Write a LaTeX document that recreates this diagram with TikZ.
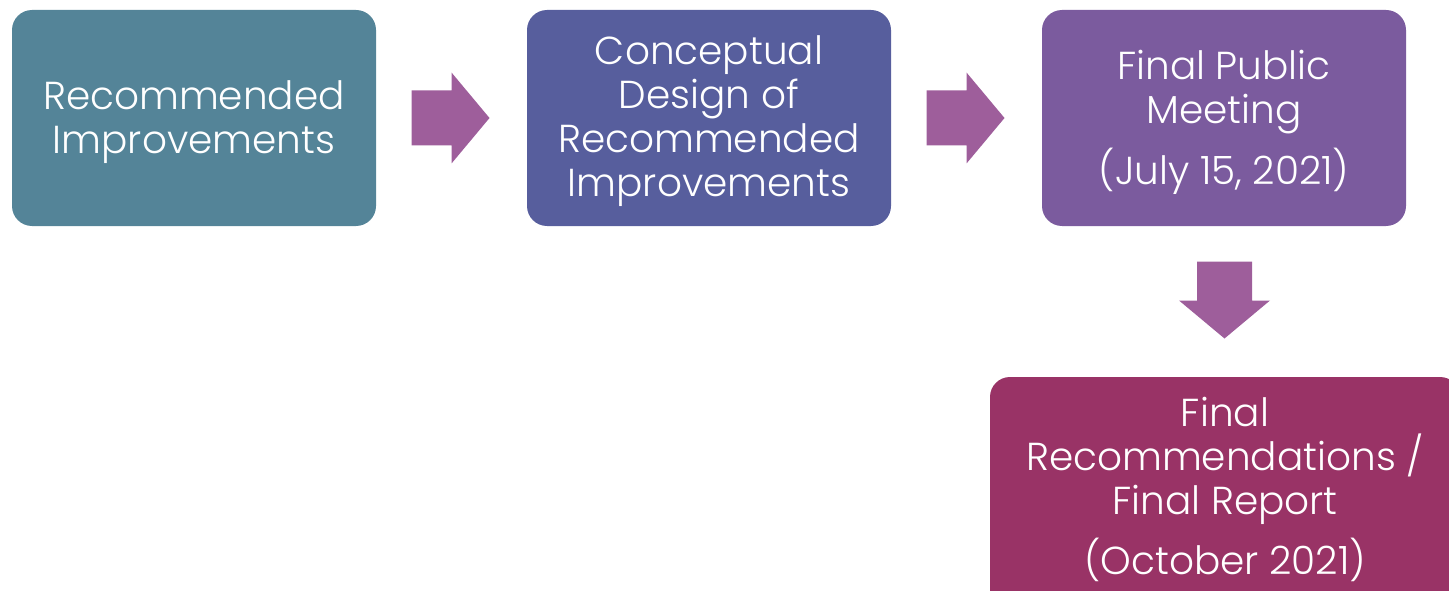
\documentclass[tikz,border=0pt]{standalone}
\usepackage{fontspec}
\setmainfont{Poppins}[UprightFont=* Light]
\usetikzlibrary{calc}
\definecolor{cA}{HTML}{548498}
\definecolor{cB}{HTML}{575E9D}
\definecolor{cC}{HTML}{7B5B9E}
\definecolor{cD}{HTML}{993366}
\definecolor{cArr}{HTML}{9E5E9B}
\tikzset{
  box/.style={rounded corners=20pt, minimum width=364pt, minimum height=216pt, inner sep=0pt},
  label text/.style={text=white, align=center, inner sep=0pt, font=\fontsize{39}{44}\selectfont},
  arrowfill/.style={fill=cArr},
}
\begin{document}
\begin{tikzpicture}[x=1pt,y=-1pt]
\useasboundingbox (0,0) rectangle (1449,591);
\node[box, fill=cA] (b1) at (194,118) {};
\node[box, fill=cB] (b2) at (709,118) {};
\node[box, fill=cC] (b3) at (1224,118) {};
\node[box, fill=cD, minimum width=470pt, minimum height=240pt] (b4) at (1225,497) {};
\node[label text] (t1) at ([yshift=-4pt]b1.center) {Recommended\\Improvements};
\node[label text] (t2) at ([yshift=-3pt]b2.center) {Conceptual\\Design of\\Recommended\\Improvements};
\node[label text] (t3) at ([yshift=-4pt]b3.center) {Final Public\\Meeting\\[13pt](July 15, 2021)};
\node[label text] (t4) at (1225,489.5) {Final\\Recommendations /\\Final Report\\[13pt](October 2021)};
% block arrows
\coordinate (m1) at ($(b1.east)!0.5!(b2.west)$);
\coordinate (m2) at ($(b2.east)!0.5!(b3.west)$);
\coordinate (m3) at ($(b3.south)!0.5!(b4.north)$);
\foreach \m in {m1,m2}{
  \fill[arrowfill] ([shift={(-40,-27.5)}]\m) -- ([shift={(0,-27.5)}]\m) -- ([shift={(0,-45.5)}]\m)
    -- ([shift={(38,0)}]\m) -- ([shift={(0,45.5)}]\m) -- ([shift={(0,27.5)}]\m)
    -- ([shift={(-40,27.5)}]\m) -- cycle;
}
\fill[arrowfill] ([shift={(-27.5,-40)}]m3) -- ([shift={(27.5,-40)}]m3) -- ([shift={(27.5,-1)}]m3)
    -- ([shift={(45.5,-1)}]m3) -- ([shift={(0,37)}]m3) -- ([shift={(-45.5,-1)}]m3)
    -- ([shift={(-27.5,-1)}]m3) -- cycle;
\end{tikzpicture}
\end{document}
